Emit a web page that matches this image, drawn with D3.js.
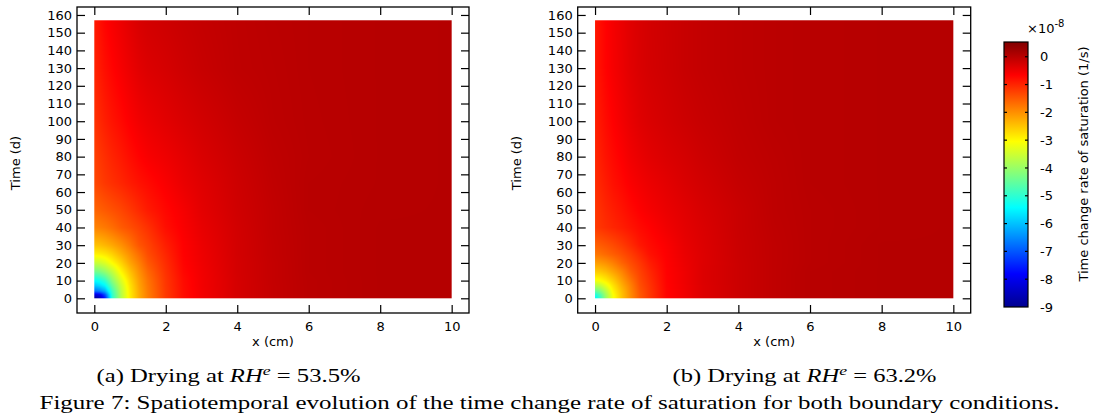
<!DOCTYPE html>
<html>
<head>
<meta charset="utf-8">
<script src="https://cdn.jsdelivr.net/npm/d3@7/dist/d3.min.js"></script>
<style>
  body { margin: 0; background: #fff; }
  text { font-family: "DejaVu Sans", sans-serif; fill: #000; }
  .cap { font-family: "Liberation Serif", "DejaVu Serif", serif; }
</style>
</head>
<body>
<svg id="fig" width="1094" height="417"></svg>
<script>
// ---------------- data (values in 1e-8 1/s) ----------------
const xs = [0, 0.15, 0.3, 0.5, 0.75, 1, 1.25, 1.5, 2, 2.5, 3, 4, 5, 6, 8, 10];      // cm
const ts = [0, 2, 4, 7, 10, 15, 20, 25, 30, 40, 50, 65, 80, 100, 130, 157];          // days

// (a) RH^e = 53.5 %   rows follow ts, columns follow xs
const rateA = [
  [-9.0, -8.6, -7.6, -5.02, -3.75, -2.88, -2.27, -1.83, -1.19, -0.78, -0.56, -0.27, -0.115, -0.015, 0.03, 0.03],
  [-8.2, -8.0, -7.1, -4.98, -3.73, -2.87, -2.27, -1.83, -1.19, -0.78, -0.56, -0.27, -0.115, -0.015, 0.03, 0.03],
  [-6.8, -6.6, -6.2, -4.86, -3.69, -2.85, -2.25, -1.81, -1.19, -0.78, -0.56, -0.27, -0.115, -0.015, 0.03, 0.03],
  [-6.0, -5.8, -5.5, -4.5, -3.56, -2.79, -2.2, -1.78, -1.17, -0.77, -0.55, -0.27, -0.115, -0.015, 0.03, 0.03],
  [-5.4, -5.25, -4.95, -4.15, -3.37, -2.69, -2.15, -1.74, -1.16, -0.76, -0.55, -0.27, -0.11, -0.015, 0.03, 0.03],
  [-4.39, -4.28, -4.05, -3.63, -2.98, -2.47, -2.02, -1.63, -1.12, -0.72, -0.54, -0.26, -0.11, -0.01, 0.03, 0.03],
  [-3.56, -3.51, -3.36, -3.03, -2.64, -2.2, -1.86, -1.49, -1.07, -0.69, -0.52, -0.26, -0.11, -0.01, 0.03, 0.03],
  [-2.93, -2.89, -2.81, -2.62, -2.3, -1.99, -1.68, -1.37, -1.01, -0.67, -0.51, -0.25, -0.1, -0.01, 0.03, 0.03],
  [-2.48, -2.45, -2.37, -2.23, -2.02, -1.76, -1.46, -1.29, -0.94, -0.66, -0.49, -0.25, -0.1, -0.01, 0.03, 0.03],
  [-1.89, -1.85, -1.79, -1.68, -1.51, -1.39, -1.26, -1.11, -0.79, -0.61, -0.45, -0.24, -0.09, -0.01, 0.03, 0.03],
  [-1.6, -1.55, -1.49, -1.41, -1.31, -1.18, -1.04, -0.9, -0.72, -0.57, -0.41, -0.22, -0.09, 0.0, 0.025, 0.03],
  [-1.33, -1.26, -1.18, -1.1, -1.01, -0.91, -0.82, -0.75, -0.61, -0.47, -0.37, -0.2, -0.075, 0.0, 0.02, 0.03],
  [-1.26, -1.17, -1.09, -0.99, -0.89, -0.78, -0.68, -0.6, -0.51, -0.41, -0.31, -0.17, -0.06, -0.01, 0.02, 0.03],
  [-1.13, -1.03, -0.94, -0.84, -0.74, -0.63, -0.54, -0.48, -0.39, -0.31, -0.24, -0.12, -0.04, -0.005, 0.02, 0.03],
  [-0.99, -0.89, -0.79, -0.69, -0.58, -0.48, -0.39, -0.33, -0.27, -0.2, -0.14, -0.06, -0.03, 0.0, 0.02, 0.03],
  [-0.9, -0.8, -0.69, -0.59, -0.49, -0.39, -0.3, -0.25, -0.2, -0.15, -0.11, -0.055, -0.02, 0.0, 0.02, 0.03]
];

// (b) RH^e = 63.2 %
const rateB = [
  [-5.5, -4.87, -3.99, -3.13, -2.48, -1.96, -1.49, -1.2, -0.7, -0.53, -0.35, -0.18, -0.07, 0.0, 0.03, 0.03],
  [-5.2, -4.67, -3.92, -3.09, -2.47, -1.95, -1.49, -1.2, -0.7, -0.53, -0.35, -0.18, -0.07, 0.0, 0.03, 0.03],
  [-4.53, -4.2, -3.73, -2.98, -2.43, -1.92, -1.46, -1.19, -0.7, -0.53, -0.35, -0.18, -0.07, 0.0, 0.03, 0.03],
  [-3.77, -3.64, -3.29, -2.81, -2.3, -1.85, -1.4, -1.16, -0.69, -0.52, -0.35, -0.18, -0.07, 0.0, 0.03, 0.03],
  [-3.15, -3.05, -2.89, -2.59, -2.15, -1.74, -1.35, -1.12, -0.68, -0.51, -0.34, -0.18, -0.07, 0.0, 0.03, 0.03],
  [-2.57, -2.53, -2.42, -2.2, -1.9, -1.53, -1.27, -1.05, -0.67, -0.51, -0.34, -0.18, -0.07, 0.0, 0.03, 0.03],
  [-2.14, -2.1, -2.02, -1.86, -1.59, -1.37, -1.17, -0.95, -0.66, -0.49, -0.35, -0.18, -0.07, -0.01, 0.03, 0.03],
  [-1.76, -1.72, -1.64, -1.53, -1.39, -1.22, -1.03, -0.83, -0.64, -0.47, -0.35, -0.17, -0.07, -0.01, 0.03, 0.03],
  [-1.56, -1.51, -1.45, -1.36, -1.22, -1.06, -0.88, -0.77, -0.62, -0.45, -0.34, -0.17, -0.07, -0.01, 0.03, 0.03],
  [-1.2, -1.14, -1.08, -1.01, -0.93, -0.84, -0.75, -0.68, -0.53, -0.41, -0.32, -0.16, -0.06, -0.01, 0.02, 0.03],
  [-1.16, -1.09, -1.01, -0.93, -0.84, -0.74, -0.65, -0.58, -0.47, -0.38, -0.29, -0.16, -0.05, -0.01, 0.02, 0.03],
  [-1.07, -0.99, -0.91, -0.81, -0.72, -0.62, -0.55, -0.49, -0.4, -0.31, -0.24, -0.12, -0.05, 0.0, 0.02, 0.03],
  [-1.02, -0.92, -0.83, -0.74, -0.64, -0.53, -0.46, -0.4, -0.32, -0.26, -0.19, -0.09, -0.04, 0.0, 0.02, 0.03],
  [-0.95, -0.85, -0.76, -0.66, -0.55, -0.45, -0.37, -0.32, -0.25, -0.19, -0.14, -0.07, -0.02, 0.0, 0.02, 0.03],
  [-0.88, -0.78, -0.68, -0.58, -0.48, -0.38, -0.31, -0.26, -0.2, -0.14, -0.1, -0.05, -0.02, 0.0, 0.02, 0.03],
  [-0.87, -0.77, -0.67, -0.57, -0.47, -0.37, -0.3, -0.25, -0.19, -0.14, -0.1, -0.05, -0.02, 0.0, 0.02, 0.03]
];

const xTickValues = [0, 2, 4, 6, 8, 10];
const tTickValues = [0, 10, 20, 30, 40, 50, 60, 70, 80, 90, 100, 110, 120, 130, 140, 150, 160];
const cbTickValues = [0, -1, -2, -3, -4, -5, -6, -7, -8, -9];
const cbRange = [-9, 0.53];
const jetStops = [0, 0.125, 0.375, 0.625, 0.875, 1];
const jetColors = ["#00008f", "#0000ff", "#00ffff", "#ffff00", "#ff0000", "#800000"];
const rhValues = ["53.5%", "63.2%"];
const subLabels = ["(a)", "(b)"];
const figCaption = "Figure 7: Spatiotemporal evolution of the time change rate of saturation for both boundary conditions.";

// ---------------- drawing ----------------
const svg = d3.select("#fig");
const jet = d3.scaleLinear()
  .domain(jetStops.map(p => cbRange[0] + p * (cbRange[1] - cbRange[0])))
  .range(jetColors)
  .interpolate(d3.interpolateRgb)
  .clamp(true);

function sampleField(grid, x, t) {
  let i = Math.max(0, Math.min(xs.length - 2, d3.bisectRight(xs, x) - 1));
  let j = Math.max(0, Math.min(ts.length - 2, d3.bisectRight(ts, t) - 1));
  const fx = Math.max(0, Math.min(1, (x - xs[i]) / (xs[i + 1] - xs[i])));
  const ft = Math.max(0, Math.min(1, (t - ts[j]) / (ts[j + 1] - ts[j])));
  const a = grid[j][i], b = grid[j][i + 1], c = grid[j + 1][i], d = grid[j + 1][i + 1];
  return (a * (1 - fx) + b * fx) * (1 - ft) + (c * (1 - fx) + d * fx) * ft;
}

const frameTop = 7, frameBottom = 313;
const yScale = d3.scaleLinear().domain([-8.3, 164.5]).range([frameBottom, frameTop]);

function drawPanel(frameLeft, frameRight, grid, idx) {
  const xScale = d3.scaleLinear().domain([-0.484, 10.485]).range([frameLeft, frameRight]);
  const g = svg.append("g");

  // field image
  const px0 = xScale(xs[0]), px1 = xScale(xs[xs.length - 1]);
  const py0 = yScale(ts[ts.length - 1]), py1 = yScale(ts[0]);
  const W = Math.round(px1 - px0), H = Math.round(py1 - py0);
  const canvas = document.createElement("canvas");
  canvas.width = W; canvas.height = H;
  const ctx = canvas.getContext("2d");
  const img = ctx.createImageData(W, H);
  for (let r = 0; r < H; r++) {
    const t = yScale.invert(py0 + (r + 0.5) * (py1 - py0) / H);
    for (let c = 0; c < W; c++) {
      const x = xScale.invert(px0 + (c + 0.5) * (px1 - px0) / W);
      const col = d3.rgb(jet(sampleField(grid, x, t)));
      const k = (r * W + c) * 4;
      img.data[k] = col.r; img.data[k + 1] = col.g; img.data[k + 2] = col.b; img.data[k + 3] = 255;
    }
  }
  ctx.putImageData(img, 0, 0);
  g.append("image")
    .attr("href", canvas.toDataURL())
    .attr("x", px0).attr("y", py0)
    .attr("width", px1 - px0).attr("height", py1 - py0)
    .attr("preserveAspectRatio", "none");

  // axes (ticks inward)
  const fontSize = 13;
  const left = g.append("g").attr("transform", `translate(${frameLeft},0)`)
    .call(d3.axisLeft(yScale).tickValues(tTickValues).tickSizeInner(-8).tickSizeOuter(0).tickPadding(5));
  const right = g.append("g").attr("transform", `translate(${frameRight},0)`)
    .call(d3.axisRight(yScale).tickValues(tTickValues).tickSizeInner(-8).tickSizeOuter(0).tickFormat(""));
  const bottom = g.append("g").attr("transform", `translate(0,${frameBottom})`)
    .call(d3.axisBottom(xScale).tickValues(xTickValues).tickSizeInner(-8).tickSizeOuter(0).tickPadding(9));
  const top = g.append("g").attr("transform", `translate(0,${frameTop})`)
    .call(d3.axisTop(xScale).tickValues(xTickValues).tickSizeInner(-8).tickSizeOuter(0).tickFormat(""));
  [left, right, bottom, top].forEach(a => {
    a.select(".domain").remove();
    a.selectAll("line").attr("stroke", "#000").attr("stroke-width", 1.2);
    a.selectAll("text").attr("font-size", fontSize).attr("font-family", "DejaVu Sans").attr("fill", "#000");
  });

  g.append("rect")
    .attr("x", frameLeft).attr("y", frameTop)
    .attr("width", frameRight - frameLeft).attr("height", frameBottom - frameTop)
    .attr("fill", "none").attr("stroke", "#000").attr("stroke-width", 1.3);

  // axis titles
  g.append("text")
    .attr("transform", `translate(${frameLeft - 57},163) rotate(-90)`)
    .attr("text-anchor", "middle").attr("font-size", fontSize)
    .text("Time (d)");
  g.append("text")
    .attr("x", (xScale(0) + xScale(10)) / 2).attr("y", 346)
    .attr("text-anchor", "middle").attr("font-size", fontSize)
    .text("x (cm)");

  // sub caption
  const capCenter = idx === 0 ? 228.5 : 804.5;
  const cap = g.append("text").attr("class", "cap")
    .attr("x", capCenter).attr("y", 382)
    .attr("text-anchor", "middle").attr("font-size", 18)
    .attr("textLength", 264).attr("lengthAdjust", "spacingAndGlyphs");
  cap.append("tspan").text(subLabels[idx] + " Drying at ");
  cap.append("tspan").attr("font-style", "italic").text("RH");
  cap.append("tspan").attr("font-style", "italic").attr("font-size", 13).attr("dy", -7).text("e");
  cap.append("tspan").attr("dy", 7).text(" = " + rhValues[idx]);
}

drawPanel(77, 469, rateA, 0);
drawPanel(577.7, 970.7, rateB, 1);

// ---------------- colour bar ----------------
const cb = { x: 1004, y: 42, w: 24, h: 265 };
const cbScale = d3.scaleLinear().domain(cbRange).range([cb.y + cb.h, cb.y]);
const defs = svg.append("defs");
const grad = defs.append("linearGradient").attr("id", "jetgrad")
  .attr("x1", 0).attr("y1", 1).attr("x2", 0).attr("y2", 0);
jetStops.forEach((p, i) => grad.append("stop").attr("offset", p).attr("stop-color", jetColors[i]));
svg.append("rect")
  .attr("x", cb.x).attr("y", cb.y).attr("width", cb.w).attr("height", cb.h)
  .attr("fill", "url(#jetgrad)").attr("stroke", "#000").attr("stroke-width", 1.2);
const cbTicks = svg.append("g");
cbTickValues.forEach(v => {
  const yy = cbScale(v);
  if (yy > cb.y + 1 && yy < cb.y + cb.h - 1) {
    cbTicks.append("line").attr("x1", cb.x).attr("x2", cb.x + 3).attr("y1", yy).attr("y2", yy)
      .attr("stroke", "#000").attr("stroke-width", 1.2);
    cbTicks.append("line").attr("x1", cb.x + cb.w - 3).attr("x2", cb.x + cb.w).attr("y1", yy).attr("y2", yy)
      .attr("stroke", "#000").attr("stroke-width", 1.2);
  }
  cbTicks.append("text").attr("x", cb.x + cb.w + 12).attr("y", yy).attr("dy", "0.35em")
    .attr("font-size", 13).text(String(v));
});
const mult = svg.append("text").attr("x", 1027).attr("y", 33).attr("font-size", 13);
mult.append("tspan").text("\u00d710");
mult.append("tspan").attr("font-size", 10).attr("dy", -6).text("-8");
svg.append("text")
  .attr("transform", "translate(1088,164) rotate(-90)")
  .attr("text-anchor", "middle").attr("font-size", 13)
  .text("Time change rate of saturation (1/s)");

// ---------------- figure caption ----------------
svg.append("text").attr("class", "cap")
  .attr("x", 549.5).attr("y", 409)
  .attr("text-anchor", "middle").attr("font-size", 18)
  .attr("textLength", 1020).attr("lengthAdjust", "spacingAndGlyphs")
  .text(figCaption);
</script>
</body>
</html>
